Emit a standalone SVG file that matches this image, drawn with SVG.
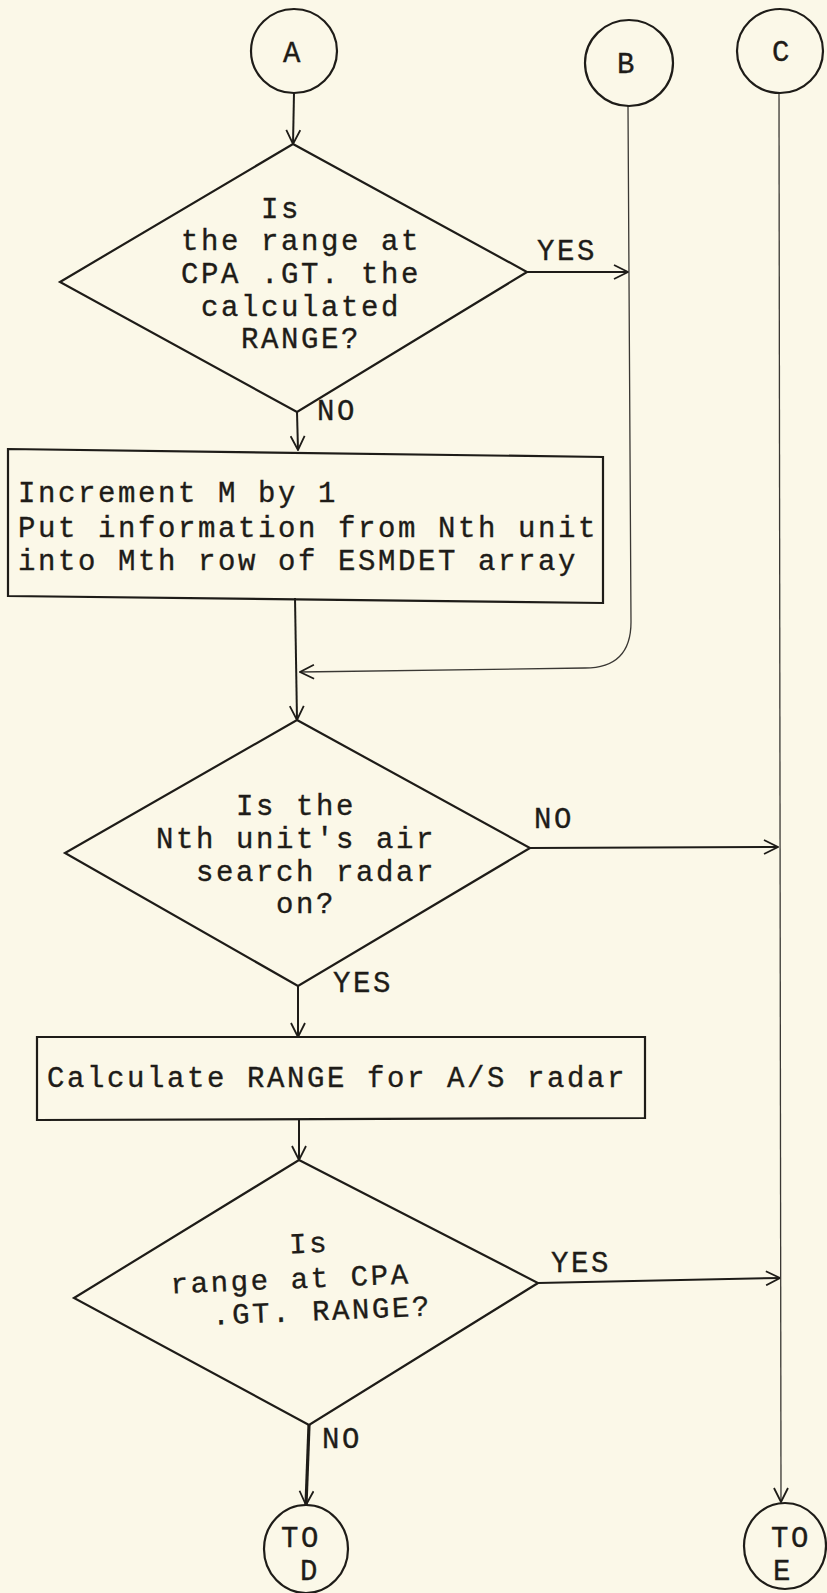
<svg xmlns="http://www.w3.org/2000/svg" width="827" height="1593" viewBox="0 0 827 1593">
  <style>
    .shape { fill: none; stroke: #1e1c18; stroke-width: 2.2; stroke-linejoin: miter; }
    .conn { fill: none; stroke: #1e1c18; stroke-width: 2; }
    .thin { fill: none; stroke: #3a3834; stroke-width: 1.3; }
    .thick { fill: none; stroke: #1e1c18; stroke-width: 3.2; }
    .t { font-family: "Liberation Mono", "Courier New", monospace; font-size: 29px; letter-spacing: 2.6px; fill: #1e1c18; stroke: #1e1c18; stroke-width: 0.35; }
    .c { text-anchor: middle; }
  </style>
  <defs>
    <marker id="arrow" viewBox="0 0 16 16" refX="15" refY="8" markerWidth="16" markerHeight="16" markerUnits="userSpaceOnUse" orient="auto">
      <path d="M1,1 L15,8 L1,15" fill="none" stroke="#1e1c18" stroke-width="1.8"/>
    </marker>
  </defs>

  <rect x="0" y="0" width="827" height="1593" fill="#fbf8e8"/>

  <!-- connectors -->
  <g id="connectors">
    <path class="conn" d="M294,93 L293,144" marker-end="url(#arrow)"/>
    <path class="conn" d="M527,272 L628,272" marker-end="url(#arrow)"/>
    <path class="conn" d="M297,412 L298,450" marker-end="url(#arrow)"/>
    <path class="conn" d="M295,598 L297,720" marker-end="url(#arrow)"/>
    <path class="thin" d="M628,106 L631,622 Q631,668 585,668 L300,672" marker-end="url(#arrow)"/>
    <path class="conn" d="M530,848 L778,847" marker-end="url(#arrow)"/>
    <path class="conn" d="M298,986 L298,1037" marker-end="url(#arrow)"/>
    <path class="conn" d="M299,1120 L299,1160" marker-end="url(#arrow)"/>
    <path class="conn" d="M538,1283 L780,1278" marker-end="url(#arrow)"/>
    <path class="thick" d="M309,1425 L306,1505" marker-end="url(#arrow)"/>
    <path class="thin" d="M779,93 L781,1502" marker-end="url(#arrow)"/>
  </g>

  <!-- connector labels -->
  <g id="labels">
    <text class="t" x="537" y="260">YES</text>
    <text class="t" x="317" y="420">NO</text>
    <text class="t" x="534" y="828">NO</text>
    <text class="t" x="333" y="992">YES</text>
    <text class="t" x="551" y="1272">YES</text>
    <text class="t" x="322" y="1448">NO</text>
  </g>

  <g id="connA">
    <ellipse class="shape" cx="294" cy="51" rx="43" ry="42"/>
    <text class="t c" x="293" y="62">A</text>
  </g>
  <g id="connB">
    <ellipse class="shape" cx="629" cy="63" rx="44" ry="43"/>
    <text class="t c" x="627" y="73">B</text>
  </g>
  <g id="connC">
    <ellipse class="shape" cx="780" cy="51" rx="43" ry="42"/>
    <text class="t c" x="782" y="61">C</text>
  </g>

  <g id="decision1">
    <polygon class="shape" points="293,144 527,272 297,412 60,282"/>
    <text class="t" x="261" y="218">Is</text>
    <text class="t" x="181" y="250">the range at</text>
    <text class="t" x="181" y="283">CPA .GT. the</text>
    <text class="t" x="201" y="316">calculated</text>
    <text class="t" x="241" y="348">RANGE?</text>
  </g>

  <g id="process1">
    <polygon class="shape" points="8,449 603,457 603,603 8,596"/>
    <text class="t" x="18" y="502">Increment M by 1</text>
    <text class="t" x="18" y="537">Put information from Nth unit</text>
    <text class="t" x="18" y="570">into Mth row of ESMDET array</text>
  </g>

  <g id="decision2">
    <polygon class="shape" points="297,720 530,848 298,986 65,853"/>
    <text class="t" x="236" y="815">Is the</text>
    <text class="t" x="156" y="848">Nth unit's air</text>
    <text class="t" x="196" y="881">search radar</text>
    <text class="t" x="276" y="913">on?</text>
  </g>

  <g id="process2">
    <polygon class="shape" points="37,1037 645,1037 645,1118 37,1120"/>
    <text class="t" x="47" y="1087">Calculate RANGE for A/S radar</text>
  </g>

  <g id="decision3">
    <polygon class="shape" points="299,1160 538,1283 309,1425 74,1298"/>
    <g transform="rotate(-2.4 300 1288)">
      <text class="t" x="291" y="1253">Is</text>
      <text class="t" x="171" y="1288">range at CPA</text>
      <text class="t" x="211" y="1321">.GT. RANGE?</text>
    </g>
  </g>

  <g id="toD">
    <ellipse class="shape" cx="306" cy="1549" rx="42" ry="44"/>
    <text class="t c" x="301" y="1547">TO</text>
    <text class="t c" x="310" y="1580">D</text>
  </g>

  <g id="toE">
    <ellipse class="shape" cx="785" cy="1546" rx="41" ry="43"/>
    <text class="t c" x="791" y="1547">TO</text>
    <text class="t c" x="783" y="1580">E</text>
  </g>
</svg>
